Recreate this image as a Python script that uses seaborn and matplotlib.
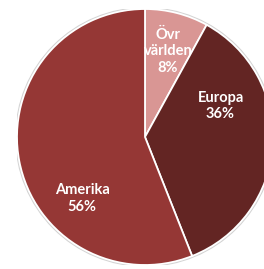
import matplotlib
matplotlib.use("Agg")
import matplotlib.pyplot as plt
import seaborn as sns

# --- Data ---
regions = ["Övr\nvärlden", "Europa", "Amerika"]
shares = [8, 36, 56]
colors = ["#D99694", "#632523", "#953735"]

# label positions (fraction of radius), where Excel put them
label_pos = [(0.18, 0.67), (0.59, 0.24), (-0.49, -0.48)]

sns.set_theme(style="white")
plt.rcParams['font.family'] = ['Lato', 'DejaVu Sans']

fig = plt.figure(figsize=(2.64, 2.69), dpi=100)
# pie centre at (145, 137) px, radius 128 px
ax = fig.add_axes([17 / 264, 4 / 269, 256 / 264, 256 / 269])

# faint outline behind the pie
ax.add_patch(plt.Circle((0, 0), 1.01, color="#d4d4d4", zorder=0))

ax.pie(shares, colors=colors, startangle=90, counterclock=False, radius=1,
       wedgeprops=dict(edgecolor="white", linewidth=1.3))

for name, val, (x, y) in zip(regions, shares, label_pos):
    ax.text(x, y, f"{name}\n{val}%", ha="center", va="center", color="white",
            fontsize=10.5, fontweight="bold", linespacing=1.2)

ax.set_xlim(-1, 1)
ax.set_ylim(-1, 1)
ax.set_aspect("equal")
ax.axis("off")

fig.savefig("out.png", dpi=100)
